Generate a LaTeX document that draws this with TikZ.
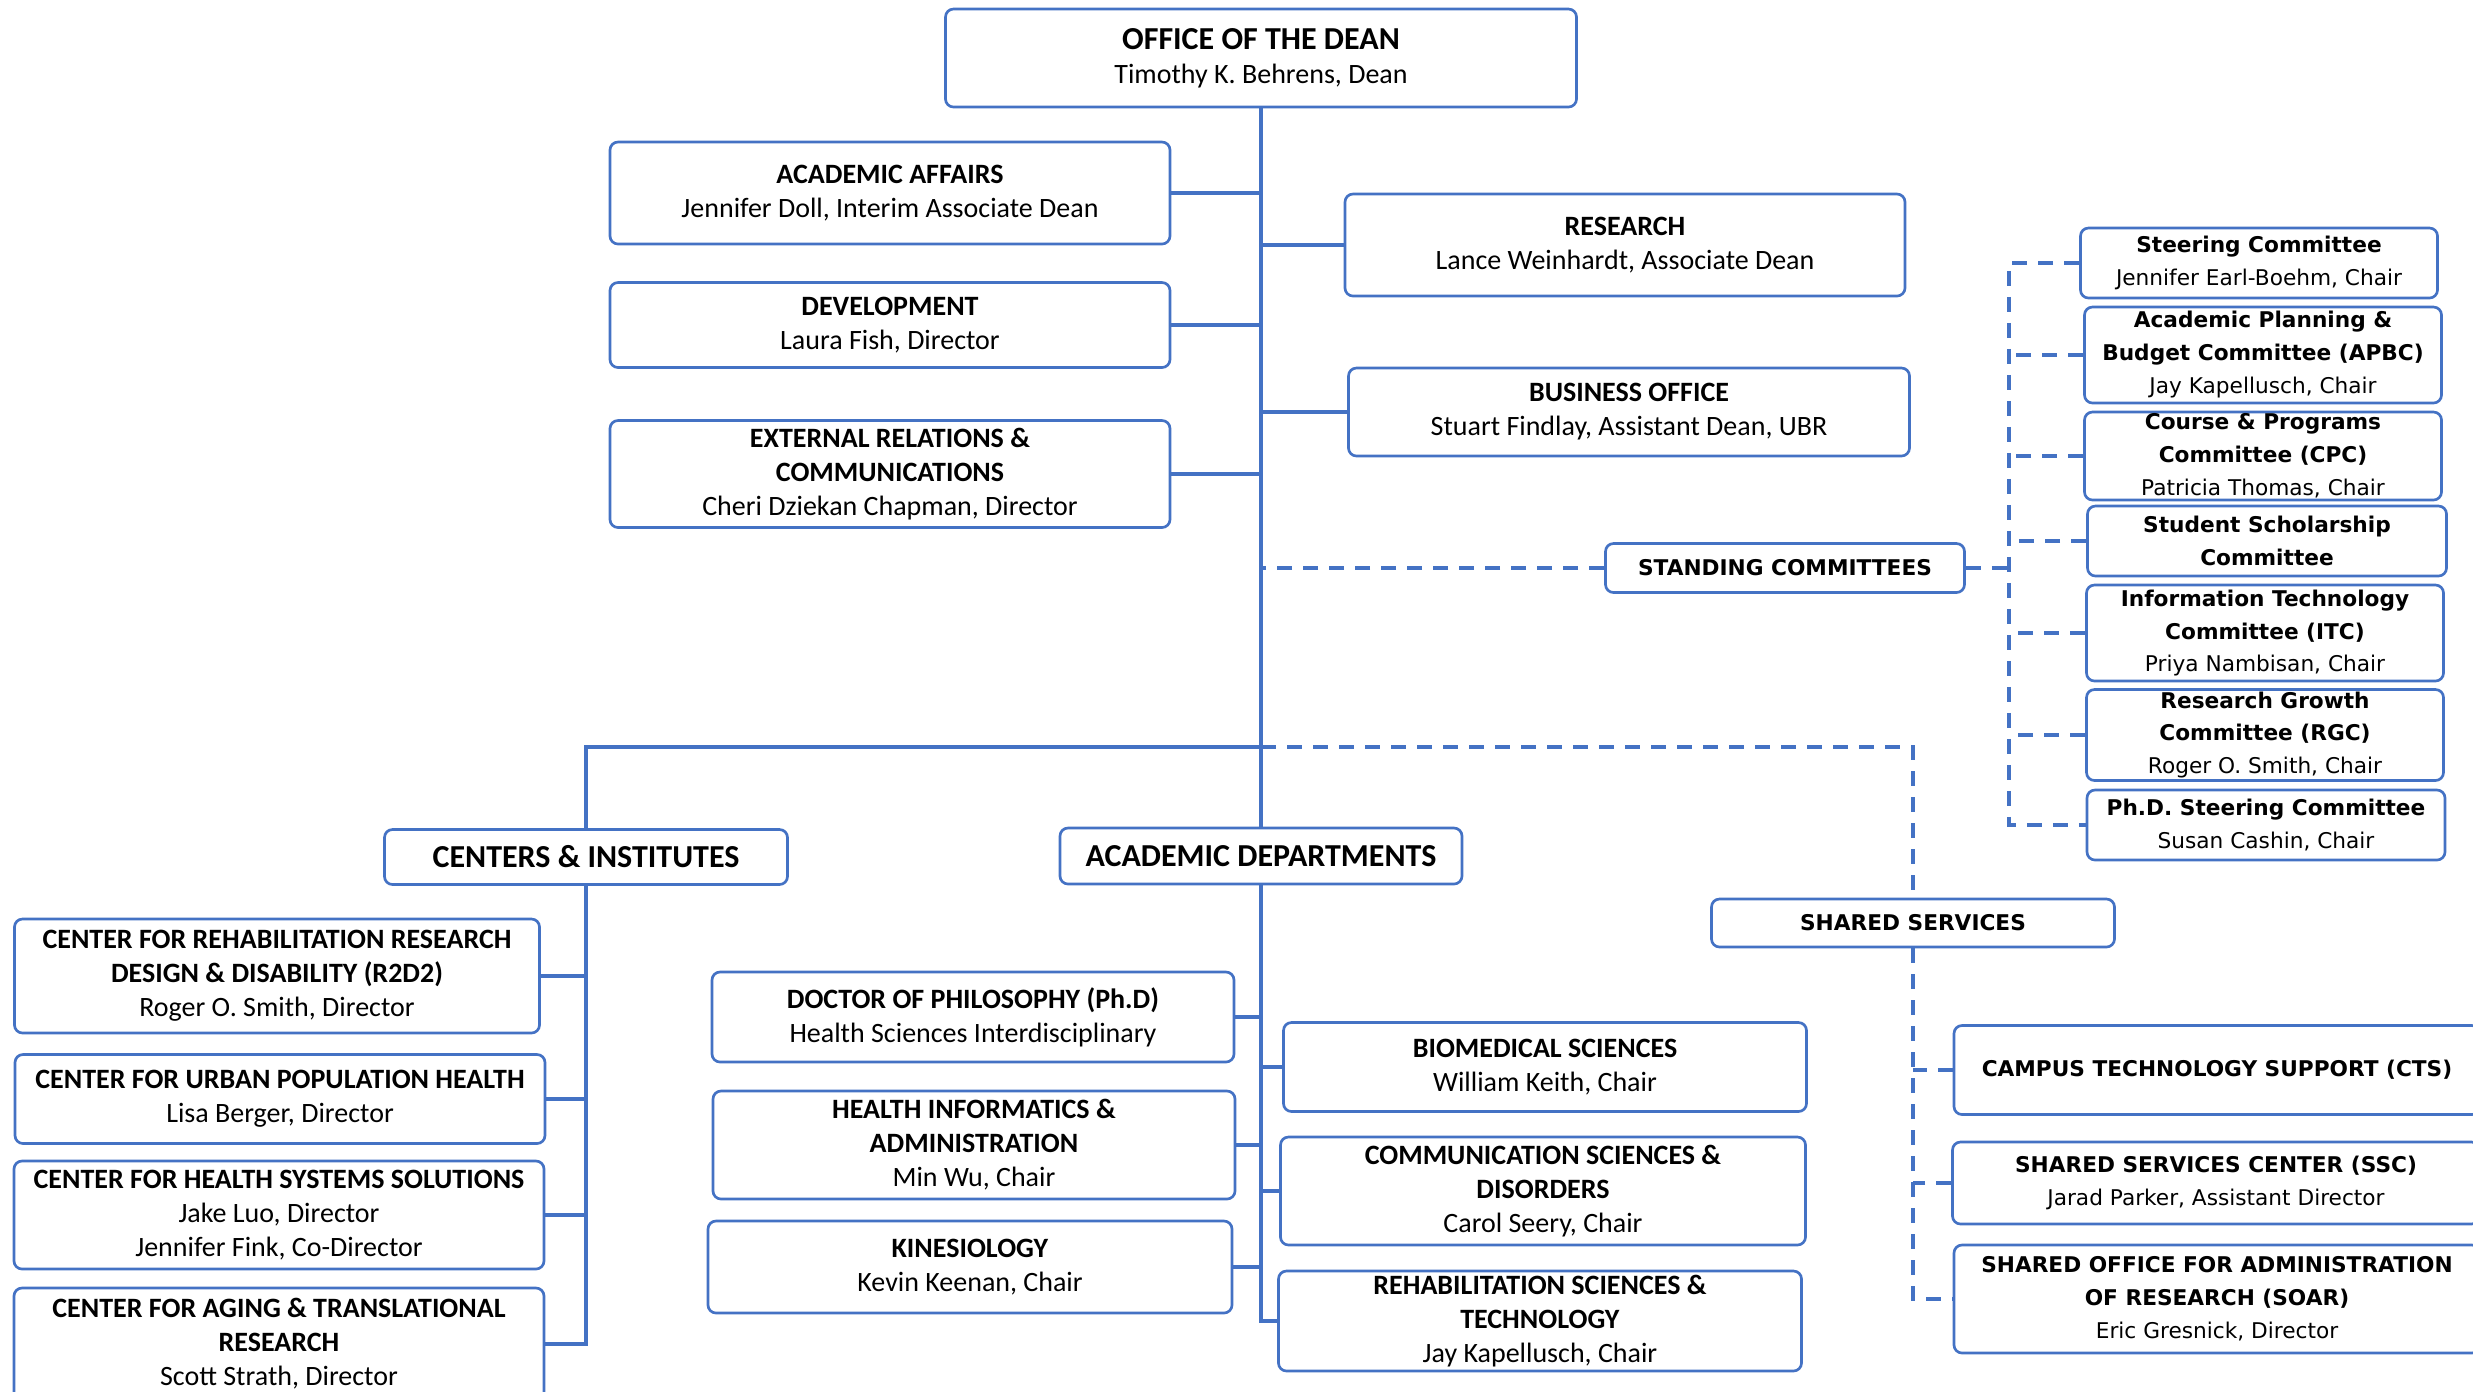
\documentclass[tikz,border=0pt]{standalone}
\usepackage{fontspec}
\setmainfont{Carlito}
\newfontfamily\verd{DejaVu Sans}
\usetikzlibrary{backgrounds}
\definecolor{ublue}{HTML}{4472C4}
\newcommand{\hdr}{\fontsize{9.6}{11}\selectfont\bfseries}
\tikzset{wh/.style 2 args={minimum width=#1*0.3pt,minimum height=#2*0.3pt}}

\begin{document}
\begin{tikzpicture}[x=0.3pt,y=-0.3pt]
    % `unit' is used for the office, center and department boxes.
    % `cbox' is used for the committees and shared services.
    % `link' and `dashline' are the connectors.
    \tikzstyle{unit} = [draw=ublue,fill=white,line width=0.8pt,rounded corners=2.4pt,align=center,inner sep=0pt,font=\fontsize{8.4}{10.2}\selectfont]
    \tikzstyle{cbox} = [unit,font=\verd\fontsize{6.5}{9.9}\selectfont]
    \tikzstyle{link} = [draw=ublue,line width=1.2pt]
    \tikzstyle{dashline} = [link,dash pattern=on 4.5pt off 3.3pt]
    \useasboundingbox (0,0) rectangle (2473,1391);
    %
    \node[unit,wh={631}{98}] (dean) at (1261,58) {{\hdr OFFICE OF THE DEAN}\\Timothy K. Behrens, Dean};
    \node[unit,wh={560}{102}] (acad) at (890,193) {\textbf{ACADEMIC AFFAIRS}\\Jennifer Doll, Interim Associate Dean};
    \node[unit,wh={560}{85}] (dev) at (890,325) {\textbf{DEVELOPMENT}\\Laura Fish, Director};
    \node[unit,wh={560}{107}] (extrel) at (890,474) {\textbf{EXTERNAL RELATIONS \&}\\\textbf{COMMUNICATIONS}\\Cheri Dziekan Chapman, Director};
    \node[unit,wh={560}{102}] (research) at (1625,245) {\textbf{RESEARCH}\\Lance Weinhardt, Associate Dean};
    \node[unit,wh={561}{88}] (business) at (1629,412) {\textbf{BUSINESS OFFICE}\\Stuart Findlay, Assistant Dean, UBR};
    % committees
    \node[cbox,wh={359}{49}] (stand) at (1785,568) {\textbf{STANDING COMMITTEES}};
    \node[cbox,wh={357}{70}] (steer) at (2259,263) {\textbf{Steering Committee}\\Jennifer Earl-Boehm, Chair};
    \node[cbox,wh={357}{96}] (apbc) at (2263,355) {\textbf{Academic Planning \&}\\\textbf{Budget Committee (APBC)}\\Jay Kapellusch, Chair};
    \node[cbox,wh={357}{88}] (cpc) at (2263,456) {\textbf{Course \& Programs}\\\textbf{Committee (CPC)}\\Patricia Thomas, Chair};
    \node[cbox,wh={359}{70}] (schol) at (2267,541) {\textbf{Student Scholarship}\\\textbf{Committee}};
    \node[cbox,wh={357}{96}] (itc) at (2265,633) {\textbf{Information Technology}\\\textbf{Committee (ITC)}\\Priya Nambisan, Chair};
    \node[cbox,wh={357}{91}] (rgc) at (2265,735) {\textbf{Research Growth}\\\textbf{Committee (RGC)}\\Roger O. Smith, Chair};
    \node[cbox,wh={358}{70}] (phdsc) at (2266,825) {\textbf{Ph.D. Steering Committee}\\Susan Cashin, Chair};
    \coordinate (cbus) at (2009,0);
    % shared services
    \node[cbox,wh={403}{48}] (shared) at (1913,923) {\textbf{SHARED SERVICES}};
    \node[cbox,wh={526}{89}] (cts) at (2217,1070) {\textbf{CAMPUS TECHNOLOGY SUPPORT (CTS)}};
    \node[cbox,wh={527}{82}] (ssc) at (2216,1183) {\textbf{SHARED SERVICES CENTER (SSC)}\\Jarad Parker, Assistant Director};
    \node[cbox,wh={526}{108}] (soar) at (2217,1299) {\textbf{SHARED OFFICE FOR ADMINISTRATION}\\\textbf{OF RESEARCH (SOAR)}\\Eric Gresnick, Director};
    % centers
    \node[unit,wh={403}{55}] (ci) at (586,857) {\hdr CENTERS \& INSTITUTES};
    \node[unit,wh={525}{114}] (r2d2) at (277,976) {\textbf{CENTER FOR REHABILITATION RESEARCH}\\\textbf{DESIGN \& DISABILITY (R2D2)}\\Roger O. Smith, Director};
    \node[unit,wh={530}{89}] (urban) at (280,1099) {\textbf{CENTER FOR URBAN POPULATION HEALTH}\\Lisa Berger, Director};
    \node[unit,wh={530}{108}] (hss) at (279,1215) {\textbf{CENTER FOR HEALTH SYSTEMS SOLUTIONS}\\Jake Luo, Director\\Jennifer Fink, Co-Director};
    \node[unit,wh={530}{112}] (aging) at (279,1344) {\textbf{CENTER FOR AGING \& TRANSLATIONAL}\\\textbf{RESEARCH}\\Scott Strath, Director};
    % departments
    \node[unit,wh={402}{56}] (ad) at (1261,856) {\hdr ACADEMIC DEPARTMENTS};
    \node[unit,wh={522}{90}] (phd) at (973,1017) {\textbf{DOCTOR OF PHILOSOPHY (Ph.D)}\\Health Sciences Interdisciplinary};
    \node[unit,wh={522}{108}] (hia) at (974,1145) {\textbf{HEALTH INFORMATICS \&}\\\textbf{ADMINISTRATION}\\Min Wu, Chair};
    \node[unit,wh={524}{92}] (kin) at (970,1267) {\textbf{KINESIOLOGY}\\Kevin Keenan, Chair};
    \node[unit,wh={523}{89}] (bio) at (1545,1067) {\textbf{BIOMEDICAL SCIENCES}\\William Keith, Chair};
    \node[unit,wh={525}{108}] (csd) at (1543,1191) {\textbf{COMMUNICATION SCIENCES \&}\\\textbf{DISORDERS}\\Carol Seery, Chair};
    \node[unit,wh={523}{100}] (rst) at (1540,1321) {\textbf{REHABILITATION SCIENCES \&}\\\textbf{TECHNOLOGY}\\Jay Kapellusch, Chair};
    \coordinate (split) at (1261,747);
    %
    \begin{pgfonlayer}{background}
        % Draw the trunk and the office lines.
        \draw[link] (dean.south) -- (ad.north);
        \foreach \n in {acad,research,dev,business,extrel}
            \draw[link] (\n) -- (\n -| dean.south);
        \draw[link] (split) -| (ci.north);
        \draw[dashline] (split) -| (shared.north);
        % Committees.
        \draw[dashline] (stand.west) -- (stand.west -| dean.south);
        \draw[dashline] (stand.east) -- (stand.east -| cbus);
        \draw[dashline] (steer.west) -- (steer.west -| cbus) -- (phdsc.west -| cbus) -- (phdsc.west);
        \foreach \n in {apbc,cpc,schol,itc,rgc}
            \draw[dashline] (\n) -- (\n -| cbus);
        % Shared services.
        \draw[dashline] (shared.south) |- (soar.west);
        \foreach \n in {cts,ssc}
            \draw[dashline] (\n) -- (\n -| shared.south);
        % Centers and departments.
        \draw[link] (ci.south) |- (aging.east);
        \foreach \n in {r2d2,urban,hss}
            \draw[link] (\n) -- (\n -| ci.south);
        \draw[link] (ad.south) |- (rst.west);
        \foreach \n in {phd,hia,kin,bio,csd}
            \draw[link] (\n) -- (\n -| ad.south);
    \end{pgfonlayer}
\end{tikzpicture}
\end{document}
